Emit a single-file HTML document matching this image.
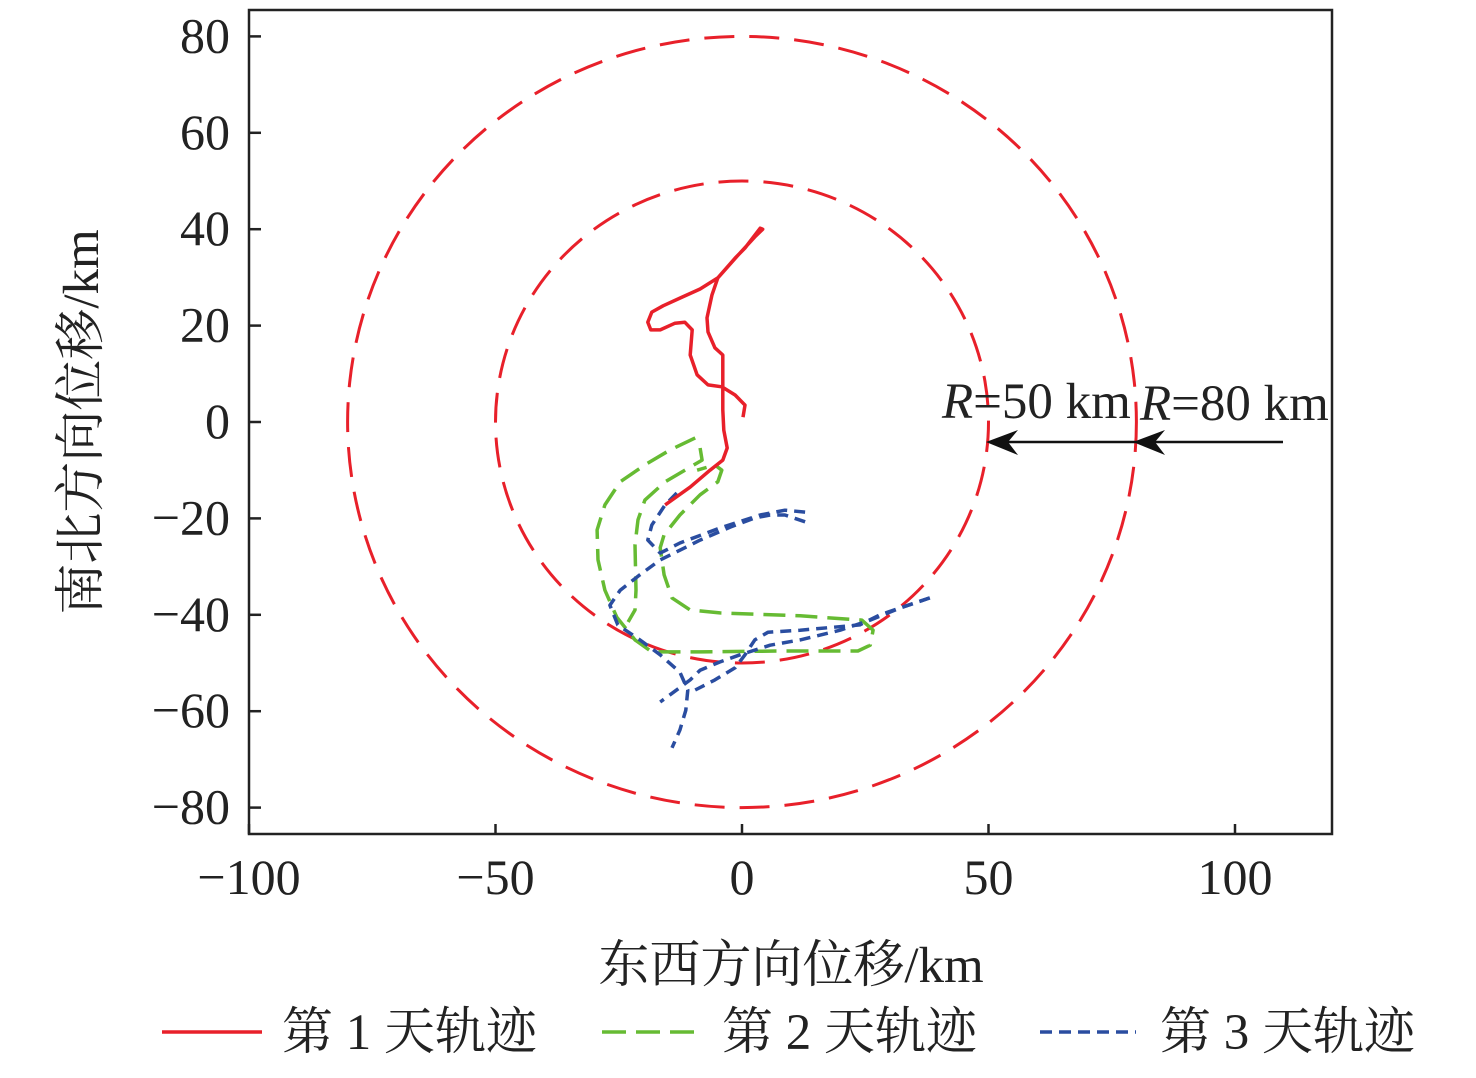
<!DOCTYPE html>
<html><head><meta charset="utf-8">
<style>
body{margin:0;background:#fff;}
svg text{font-family:"Liberation Serif","Noto Serif CJK SC",serif;fill:#222;}
</style></head>
<body>
<svg id="chart" width="1476" height="1073" viewBox="0 0 1476 1073" xmlns="http://www.w3.org/2000/svg">
<rect x="249" y="10" width="1083" height="824" fill="none" stroke="#222" stroke-width="2.5"/>
<g id="ticks"></g>
<g id="series"></g>
<text x="791" y="982" font-size="51" text-anchor="middle">东西方向位移/km</text>
<text transform="translate(98,422) rotate(-90)" font-size="51" text-anchor="middle">南北方向位移/km</text>
<text x="942" y="418" font-size="51"><tspan font-style="italic">R</tspan>=50 km</text>
<text x="1140" y="420" font-size="51"><tspan font-style="italic">R</tspan>=80 km</text>
<g>
<line x1="1283" y1="442" x2="995" y2="442" stroke="#111" stroke-width="2.5"/>
<polygon points="986,442 1018,430 1008,442 1018,455" fill="#111"/>
<polygon points="1133,442 1165,430 1155,442 1165,455" fill="#111"/>
</g>
<g>
<line x1="162" y1="1032" x2="262" y2="1032" stroke="#e8202a" stroke-width="3.5"/>
<text x="282" y="1049" font-size="51">第 1 天轨迹</text>
<line x1="602" y1="1032" x2="702" y2="1032" stroke="#66bb33" stroke-width="3.5" stroke-dasharray="24,10"/>
<text x="722" y="1049" font-size="51">第 2 天轨迹</text>
<line x1="1040" y1="1032" x2="1136" y2="1032" stroke="#2a4da0" stroke-width="3.5" stroke-dasharray="12,7"/>
<text x="1160" y="1049" font-size="51">第 3 天轨迹</text>
</g>
</svg>
<script>
const xTicks=[-100,-50,0,50,100];
const yTicks=[80,60,40,20,0,-20,-40,-60,-80];
const radii=[50,80];
const day1=[[0.2,1.0],[0.6,3.5],[-1.4,5.6],[-4.1,7.3],[-6.9,7.7],[-9.1,9.8],[-10.5,13.9],[-10.1,19.1],[-11.6,20.7],[-13.6,20.5],[-16.6,19.1],[-18.5,19.1],[-19.1,20.7],[-18.3,22.8],[-16.0,24.1],[-12.6,25.7],[-8.5,27.6],[-4.9,29.9],[-1.4,34.0],[0.6,36.1],[3.7,40.2],[4.2,40.0],[2.6,38.4],[-1.0,34.4],[-4.9,29.9],[-6.1,26.3],[-7.1,21.6],[-6.9,18.7],[-5.5,15.4],[-3.9,13.9],[-3.9,7.7],[-3.9,2.5],[-3.7,-1.7],[-3.0,-5.4],[-3.9,-7.9],[-6.5,-10.0],[-10.5,-13.5],[-15.6,-17.2]];
const day2a=[[-9.5,-3.3],[-14.6,-5.8],[-19.7,-8.9],[-24.7,-12.4],[-27.8,-17.2],[-29.4,-22.4],[-29.2,-28.6],[-27.8,-34.9],[-25.4,-40.5],[-21.7,-45.2],[-18.3,-47.7],[-8.5,-47.7],[7.7,-47.5],[23.5,-47.5],[26.0,-46.3],[26.6,-43.2],[24.3,-41.1],[11.8,-40.2],[-4.5,-39.6],[-10.5,-39.0],[-14.2,-36.5],[-15.8,-31.7],[-16.6,-26.1],[-15.8,-23.4],[-12.6,-19.3],[-8.5,-15.1],[-4.9,-12.4],[-4.1,-10.0],[-5.5,-8.9],[-9.1,-10.0]];
const day2b=[[-8.5,-5.4],[-8.1,-7.9],[-11.6,-10.0],[-15.6,-12.4],[-19.7,-16.2],[-21.1,-20.3],[-21.7,-25.5],[-21.5,-34.9],[-21.7,-39.0],[-23.1,-41.5]];
const day3a=[[12.8,-20.7],[8.7,-19.3],[5.7,-19.3],[2.6,-19.9],[-2.4,-21.8],[-8.5,-24.5],[-12.6,-26.6],[-16.6,-28.6],[-20.7,-31.7],[-24.7,-34.9],[-26.8,-38.0],[-25.2,-42.1],[-20.7,-45.2],[-16.6,-48.3],[-12.6,-51.9],[-11.0,-55.6],[-11.4,-59.8],[-12.6,-63.9],[-14.2,-67.6]];
const day3b=[[12.8,-18.7],[8.7,-18.3],[3.7,-19.3],[-4.5,-22.0],[-12.6,-25.1],[-16.6,-27.2],[-19.1,-24.5],[-18.3,-21.4],[-15.6,-17.2],[-13.0,-14.5]];
const day3c=[[38.1,-36.5],[32.0,-38.6],[26.0,-41.1],[19.9,-43.2],[11.8,-45.2],[5.7,-46.3],[-0.4,-48.3],[-4.5,-49.8],[-8.5,-51.5],[-10.5,-53.5],[-14.6,-56.6],[-16.6,-58.1]];
const day3d=[[38.1,-36.5],[28.0,-40.0],[23.9,-42.1],[11.8,-43.2],[5.3,-43.6],[2.6,-45.2],[0.6,-48.3],[-1.4,-51.0],[-5.5,-53.5],[-9.5,-55.6]];

const NS='http://www.w3.org/2000/svg';
const sx=v=>742+v*4.93;
const sy=v=>422-v*4.82;
const tg=document.getElementById('ticks');
const sg=document.getElementById('series');
function mk(tag,attrs,parent){const e=document.createElementNS(NS,tag);for(const k in attrs)e.setAttribute(k,attrs[k]);parent.appendChild(e);return e;}
xTicks.forEach(v=>{
  const l=mk('line',{x1:sx(v),x2:sx(v),y1:834,y2:824,stroke:'#222','stroke-width':2.5},tg);
  
  
  const t=mk('text',{x:sx(v),y:894,'font-size':50,'text-anchor':'middle'},tg);
  t.textContent=v<0?'\u2212'+(-v):String(v);
  
  
});
yTicks.forEach(v=>{
  const l=mk('line',{x1:249,x2:261,y1:sy(v),y2:sy(v),stroke:'#222','stroke-width':2.5},tg);
  
  
  const t=mk('text',{x:230,y:sy(v)+16,'font-size':50,'text-anchor':'end'},tg);
  t.textContent=v<0?'\u2212'+(-v):String(v);
  
  
});
radii.forEach(r=>{
  const c=mk('ellipse',{cx:sx(0),cy:sy(0),rx:r*4.93,ry:r*4.82,fill:'none',stroke:'#e8202a','stroke-width':3,'stroke-dasharray':'30,15'},sg);
  
  
});
function path(pts,color,dash,name){
  const d=pts.map((p,i)=>(i?'L':'M')+sx(p[0]).toFixed(1)+','+sy(p[1]).toFixed(1)).join(' ');
  const e=mk('path',{d:d,fill:'none',stroke:color,'stroke-width':3.5,'stroke-linejoin':'round','stroke-dasharray':dash},sg);
  
  
}
path(day2a,'#66bb33','22,10','day2-track-a');
path(day2b,'#66bb33','22,10','day2-track-b');
path(day3a,'#2a4da0','11,7','day3-track-a');
path(day3b,'#2a4da0','11,7','day3-track-b');
path(day3c,'#2a4da0','11,7','day3-track-c');
path(day3d,'#2a4da0','11,7','day3-track-d');
path(day1,'#e8202a','none','day1-track');
</script>
</body></html>
